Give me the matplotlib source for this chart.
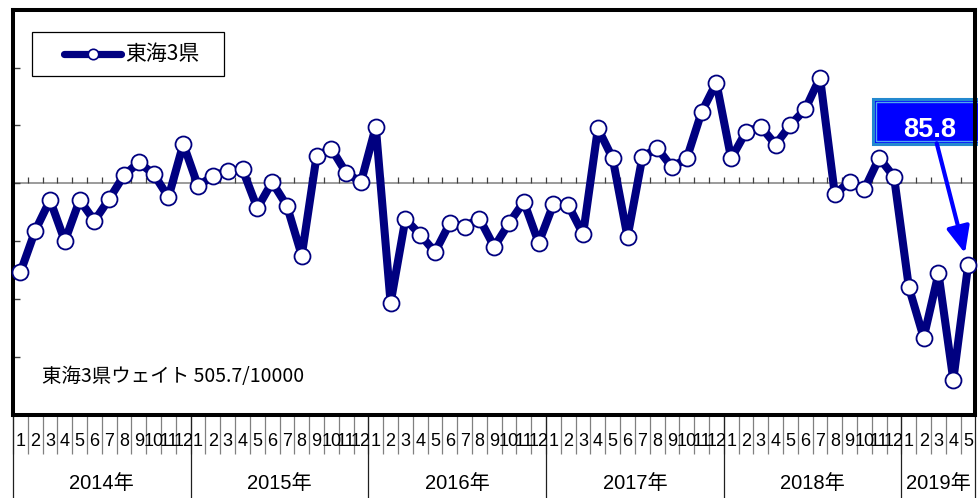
import numpy as np
import matplotlib
matplotlib.use("Agg")
from matplotlib import pyplot as plt
from matplotlib import font_manager
from matplotlib.patches import Rectangle
from matplotlib.lines import Line2D

plt.rcParams['font.family'] = ['Noto Sans CJK JP', 'DejaVu Sans']

# 東海3県 指数（月次）
years = ['2014年', '2015年', '2016年', '2017年', '2018年', '2019年']
months_in_year = [12, 12, 12, 12, 12, 5]
values = [
    84.6, 91.8, 97.1, 90.0, 97.1, 93.5, 97.3, 101.4, 103.6, 101.6, 97.6, 106.8,   # 2014
    99.5, 101.3, 102.1, 102.4, 95.7, 100.2, 96.1, 87.5, 104.7, 106.0, 101.8, 100.2,  # 2015
    109.8, 79.3, 93.8, 91.1, 88.1, 93.1, 92.5, 93.9, 89.0, 93.1, 96.8, 89.7,  # 2016
    96.4, 96.2, 91.2, 109.5, 104.3, 90.7, 104.5, 106.1, 102.8, 104.3, 112.3, 117.4,  # 2017
    104.3, 108.9, 109.8, 106.7, 110.1, 112.8, 118.3, 98.1, 100.3, 99.0, 104.4, 101.1,  # 2018
    82.0, 73.3, 84.4, 66.0, 85.8,  # 2019
]
series_name = '東海3県'
weight_note = '東海3県ウェイト 505.7/10000'
last_label = '85.8'

navy = '#000080'

# 細い数字用フォント（無ければ通常のLiberation Sans）
installed = {f.name for f in font_manager.fontManager.ttflist}
narrow = 'Liberation Sans Narrow' if 'Liberation Sans Narrow' in installed else 'Liberation Sans'

month_labels = []
for n in months_in_year:
    month_labels += [str(m) for m in range(1, n + 1)]
x = np.arange(len(values))

fig = plt.figure(figsize=(9.79, 4.98), dpi=100)
ax = fig.add_axes([13 / 979, 83.5 / 498, 962.5 / 979, 404.6 / 498])

# 基準線(100)と月の区切り目盛り
ax.axhline(100, color='#808080', lw=1.1, zorder=1)
ax.vlines(x[1:] - 0.5, 100, 101.15, color='#404040', lw=0.9, zorder=1)

ax.plot(x, values, color=navy, lw=5.8, marker='o', markersize=11.5,
        markerfacecolor='white', markeredgecolor=navy, markeredgewidth=1.3,
        zorder=3, clip_on=False)

ax.set_xlim(-0.5, len(values) - 0.5)
ax.set_ylim(60, 130)
ax.set_yticks(np.arange(70, 130, 10))
ax.set_xticks([])
ax.tick_params(axis='y', direction='in', length=5, width=1, color='#404040',
               labelleft=False)
for s in ax.spines.values():
    s.set_linewidth(2.9)
    s.set_color('black')

# 下部の月・年ラベル
trans = ax.get_xaxis_transform()
ax.vlines(x - 0.5, -0.0976, 0, transform=trans, color='#808080', lw=0.9,
          clip_on=False)
bounds = np.concatenate([[0], np.cumsum(months_in_year)]) - 0.5
ax.vlines(bounds, -0.21, 0, transform=trans, color='#202020', lw=0.9,
          clip_on=False)
for xi, lab in zip(x, month_labels):
    ax.text(xi, -0.0655, lab, transform=trans, ha='center', va='center',
            fontsize=13, family=[narrow, 'Noto Sans CJK JP'])
for i, yr in enumerate(years):
    mid = (bounds[i] + bounds[i + 1]) / 2
    ax.text(mid, -0.171, yr, transform=trans, ha='center', va='center',
            fontsize=14.5, family=[narrow, 'Noto Sans CJK JP'])

# 凡例
ax.add_patch(Rectangle((0.0197, 0.837), 0.1995, 0.108, transform=ax.transAxes,
                       fc='white', ec='black', lw=0.9, zorder=4))
ax.add_line(Line2D([0.053, 0.1122], [0.891, 0.891], transform=ax.transAxes,
                   color=navy, lw=5.2, solid_capstyle='round', zorder=5))
ax.add_line(Line2D([0.0831], [0.891], transform=ax.transAxes, marker='o',
                   markersize=7.5, markerfacecolor='white', markeredgecolor=navy,
                   markeredgewidth=1.2, zorder=6))
ax.text(0.1164, 0.891, series_name, transform=ax.transAxes, ha='left',
        va='center', fontsize=15, zorder=6)

ax.text(0.0301, 0.0934, weight_note, transform=ax.transAxes, ha='left',
        va='center', fontsize=14)

# 最新値の吹き出し
ax.add_patch(Rectangle((0.8935, 0.668), 0.12, 0.111, transform=ax.transAxes,
                       fc='#0000FF', ec='#2389CF', lw=2.2, zorder=2.2,
                       clip_on=False))
ax.add_patch(Rectangle((0.8965, 0.675), 0.12, 0.097, transform=ax.transAxes,
                       fc='none', ec='#4FA8EC', lw=1.0, zorder=2.3,
                       clip_on=False))
ax.text(0.9527, 0.6866, last_label, transform=ax.transAxes, ha='center',
        va='baseline', fontsize=19.5, fontweight='bold', color='white',
        family='Liberation Sans', zorder=4)
ax.annotate('', xy=(x[-1], values[-1]), xycoords='data',
            xytext=(0.9597, 0.6703), textcoords='axes fraction',
            arrowprops=dict(arrowstyle='-|>,head_length=0.8,head_width=0.35',
                            color='#0000FF', lw=3, mutation_scale=20,
                            shrinkA=0, shrinkB=9),
            zorder=4)

fig.savefig('out.png', dpi=100)
